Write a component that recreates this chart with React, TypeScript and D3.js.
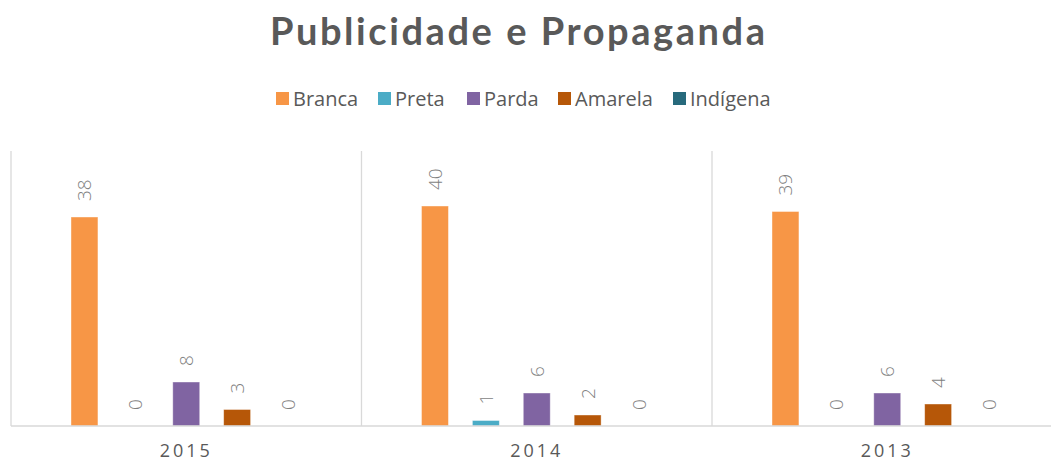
import React from "react";
import * as d3 from "d3";

const years = ["2015", "2014", "2013"];
const seriesNames = ["Branca", "Preta", "Parda", "Amarela", "Indígena"];
const seriesColors = ["#F79646", "#4BACC6", "#8064A2", "#B65708", "#276A7C"];
const branca = [38, 40, 39];
const preta = [0, 1, 0];
const parda = [8, 6, 6];
const amarela = [3, 2, 4];
const indigena = [0, 0, 0];
const seriesValues = [branca, preta, parda, amarela, indigena];

const W = 1051;
const H = 462;
const FONT = "'Open Sans', 'Liberation Sans', sans-serif";

export default function App() {
  const plotLeft = 11;
  const plotRight = 1062.5;
  const plotTop = 151;
  const baseY = 426;

  const x0 = d3.scaleBand<string>().domain(years).range([plotLeft, plotRight]).padding(0);
  const groupPad = 60;
  const x1 = d3
    .scaleBand<string>()
    .domain(seriesNames)
    .range([groupPad, x0.bandwidth() - groupPad])
    .paddingInner(24 / 51)
    .paddingOuter(0);
  const y = d3.scaleLinear().domain([0, 50]).range([baseY, plotTop]);

  const legendX = [276, 378, 467, 558, 673];

  return (
    <svg
      width={W}
      height={H}
      style={{ position: "absolute", left: 0, top: 0, background: "#fff" }}
      fontFamily={FONT}
    >
      <text
        x={270}
        y={45}
        textAnchor="start"
        fontSize={38}
        fontWeight="bold"
        fill="#595959"
        fontFamily="Lato, 'Open Sans', sans-serif"
        textLength={495}
        lengthAdjust="spacing"
      >
        Publicidade e Propaganda
      </text>

      {seriesNames.map((name, i) => (
        <g key={name} transform={`translate(${legendX[i]},92)`}>
          <rect x={0} y={0} width={13} height={13} fill={seriesColors[i]} />
          <text x={17} y={14} fontSize={20} fill="#595959">
            {name}
          </text>
        </g>
      ))}

      {/* separators */}
      {[...years.map((yr) => x0(yr)!), plotRight].map((xv, i) => (
        <line key={i} x1={xv} x2={xv} y1={plotTop} y2={baseY} stroke="#d9d9d9" strokeWidth={1.3} />
      ))}

      {years.map((yr, yi) => (
        <g key={yr} transform={`translate(${x0(yr)},0)`}>
          {seriesNames.map((s, si) => {
            const v = seriesValues[si][yi];
            const bx = x1(s)!;
            const bw = x1.bandwidth();
            const top = y(v);
            const cx = bx + bw / 2;
            const ly = top - 16;
            return (
              <g key={s}>
                {v > 0 && (
                  <rect
                    x={bx}
                    y={top}
                    width={bw}
                    height={baseY - top}
                    fill={seriesColors[si]}
                    stroke="#fff"
                    strokeOpacity={0.5}
                    strokeWidth={0.8}
                  />
                )}
                <text
                  transform={`translate(${cx},${ly}) rotate(-90)`}
                  fontSize={19}
                  fontWeight={300}
                  fill="#7f7f7f"
                  dominantBaseline="central"
                  textAnchor="start"
                >
                  {v}
                </text>
              </g>
            );
          })}
          <text
            x={x0.bandwidth() / 2}
            y={456.5}
            textAnchor="middle"
            fontSize={18}
            fill="#595959"
            letterSpacing={3}
          >
            {yr}
          </text>
        </g>
      ))}

      <line x1={plotLeft} x2={W} y1={baseY} y2={baseY} stroke="#d9d9d9" strokeWidth={1.3} />
    </svg>
  );
}
